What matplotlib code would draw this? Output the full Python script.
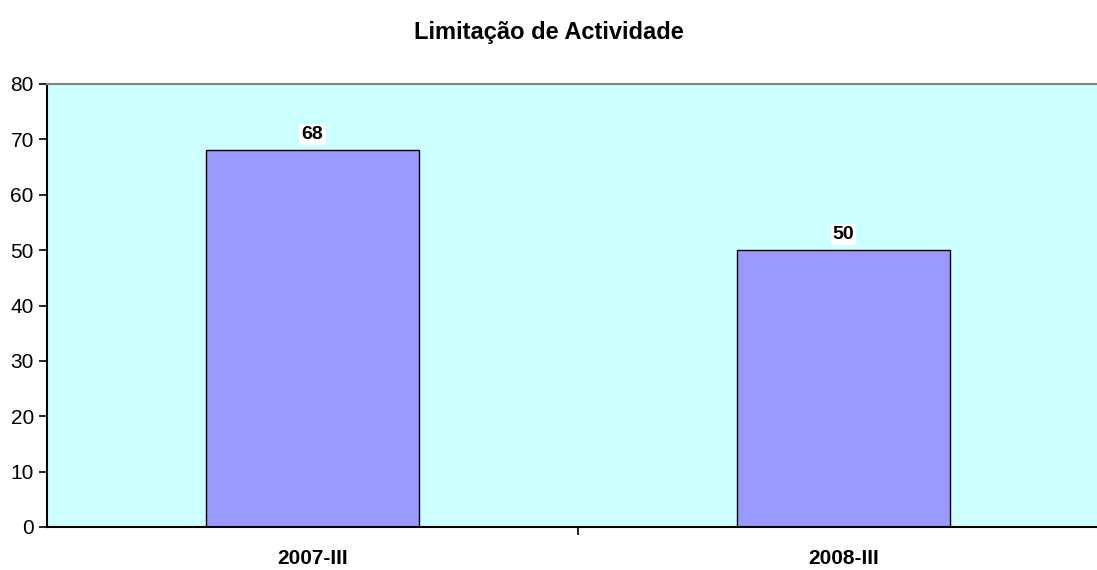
import numpy as np
import matplotlib
matplotlib.use('Agg')
import matplotlib.pyplot as plt

plt.rcParams['font.family'] = ['Liberation Sans', 'DejaVu Sans']

categories = ['2007-III', '2008-III']
values = [68, 50]

# plot area runs past the right edge of the picture (cropped, as in the original)
fig = plt.figure(figsize=(10.97, 5.70), dpi=100)
ax = fig.add_axes([47/1097, 43/570, (1109-47)/1097, (527-84)/570])
ax.set_facecolor('#CCFFFF')

ind = np.arange(len(categories))
rec = ax.bar(ind, values, 0.403, color='#9999FF', edgecolor='black', linewidth=1.0, zorder=2)
for r, v in zip(rec, values):
    ax.text(r.get_x() + r.get_width()/2, v + 1.3, str(v), ha='center', va='bottom',
            fontsize=14, fontweight='bold', zorder=3,
            bbox=dict(facecolor='white', edgecolor='none', pad=1.5))

ax.set_xlim(-0.5, len(categories) - 0.5)
ax.set_ylim(0, 80)
ax.set_yticks(range(0, 81, 10))
ax.set_xticks([0.5])
ax.set_xticklabels([''])
ax.tick_params(axis='y', direction='out', length=6, width=1.2, labelsize=15)
ax.tick_params(axis='x', direction='out', length=6, width=1.2)
for i, c in enumerate(categories):
    ax.text(i, -5.6, c, ha='center', va='center', fontsize=15, fontweight='bold')

ax.spines['left'].set_linewidth(1.5)
ax.spines['bottom'].set_linewidth(1.5)
ax.spines['top'].set_color('#808080')
ax.spines['top'].set_linewidth(1.5)
ax.spines['right'].set_visible(False)

fig.text(0.5, 1 - 32/570, 'Limitação de Actividade', ha='center', va='center',
         fontsize=17, fontweight='bold')

fig.savefig('out.png', dpi=100)
